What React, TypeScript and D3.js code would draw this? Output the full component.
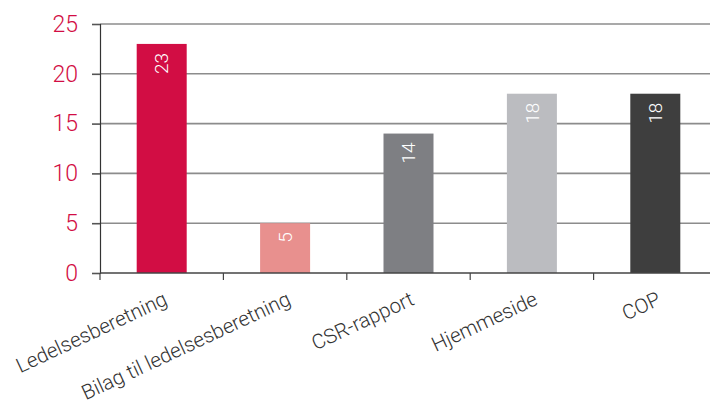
import React, { useEffect, useRef } from 'react';
import * as d3 from 'd3';

const categories = ['Ledelsesberetning', 'Bilag til ledelsesberetning', 'CSR-rapport', 'Hjemmeside', 'COP'];
const values = [23, 5, 14, 18, 18];
const barColors = ['#d20d44', '#e8908e', '#7e7f83', '#bbbcc0', '#3e3e3e'];
const yTicks = [0, 5, 10, 15, 20, 25];

const W = 710;
const H = 400;
const margin = { top: 24, right: -7, bottom: 127, left: 100 };

const App: React.FC = () => {
  const svgRef = useRef<SVGSVGElement>(null);

  useEffect(() => {
    const svg = d3.select(svgRef.current);
    svg.selectAll('*').remove();

    const innerW = W - margin.left - margin.right;
    const innerH = H - margin.top - margin.bottom;

    const g = svg.append('g').attr('transform', `translate(${margin.left},${margin.top})`);

    const x = d3.scaleBand<string>().domain(categories).range([0, innerW]);
    const y = d3.scaleLinear().domain([0, 25]).range([innerH, 0]);
    const barW = 50;

    // gridlines
    g.selectAll('.grid')
      .data(yTicks.filter(t => t > 0))
      .enter().append('line')
      .attr('x1', 0)
      .attr('x2', innerW)
      .attr('y1', d => y(d))
      .attr('y2', d => y(d))
      .attr('stroke', '#8c8c8c')
      .attr('stroke-width', 1.6);

    // bars
    g.selectAll('.bar')
      .data(values)
      .enter().append('rect')
      .attr('x', (d, i) => x(categories[i])! + (x.bandwidth() - barW) / 2)
      .attr('y', d => y(d))
      .attr('width', barW)
      .attr('height', d => innerH - y(d))
      .attr('fill', (d, i) => barColors[i]);

    // value labels, rotated inside bars (read bottom to top)
    g.selectAll('.val')
      .data(values)
      .enter().append('text')
      .attr('transform', (d, i) => `translate(${x(categories[i])! + x.bandwidth() / 2},${y(d) + 9}) rotate(-90)`)
      .attr('dy', '0.35em')
      .attr('text-anchor', 'end')
      .attr('fill', '#ffffff')
      .attr('font-family', 'Roboto, sans-serif')
      .attr('font-weight', 300)
      .attr('font-size', 19)
      .text(d => String(d));

    // y axis
    const yAxis = g.append('g')
      .call(d3.axisLeft(y).tickValues(yTicks).tickSize(8).tickPadding(14));
    yAxis.select('.domain').attr('stroke', '#333').attr('stroke-width', 1.2);
    yAxis.selectAll('.tick line').attr('stroke', '#555').attr('stroke-width', 1.6);
    yAxis.selectAll('text')
      .attr('fill', '#d20d44')
      .attr('font-family', 'Roboto, sans-serif')
      .attr('font-weight', 300)
      .attr('font-size', 23);

    // x axis (ticks between categories)
    const xAxis = g.append('g').attr('transform', `translate(0,${innerH})`);
    xAxis.append('line')
      .attr('x1', 0).attr('x2', innerW)
      .attr('y1', 0).attr('y2', 0)
      .attr('stroke', '#444').attr('stroke-width', 1.6);
    xAxis.selectAll('.xtick')
      .data(categories)
      .enter().append('line')
      .attr('x1', d => x(d)!)
      .attr('x2', d => x(d)!)
      .attr('y1', 0)
      .attr('y2', 7)
      .attr('stroke', '#444')
      .attr('stroke-width', 1.2);

    xAxis.selectAll('.xlabel')
      .data(categories)
      .enter().append('text')
      .attr('transform', d => `translate(${x(d)! + x.bandwidth() / 2 + 7},${31}) rotate(-25)`)
      .attr('text-anchor', 'end')
      .attr('fill', '#333')
      .attr('font-family', 'Roboto, sans-serif')
      .attr('font-weight', 300)
      .attr('font-size', 20.5)
      .text(d => d);
  }, []);

  return (
    <div style={{ position: 'absolute', left: 0, top: 0, width: W, height: H, background: '#fff' }}>
      <svg ref={svgRef} width={W} height={H} style={{ display: 'block', overflow: 'hidden' }}></svg>
    </div>
  );
};

export default App;
